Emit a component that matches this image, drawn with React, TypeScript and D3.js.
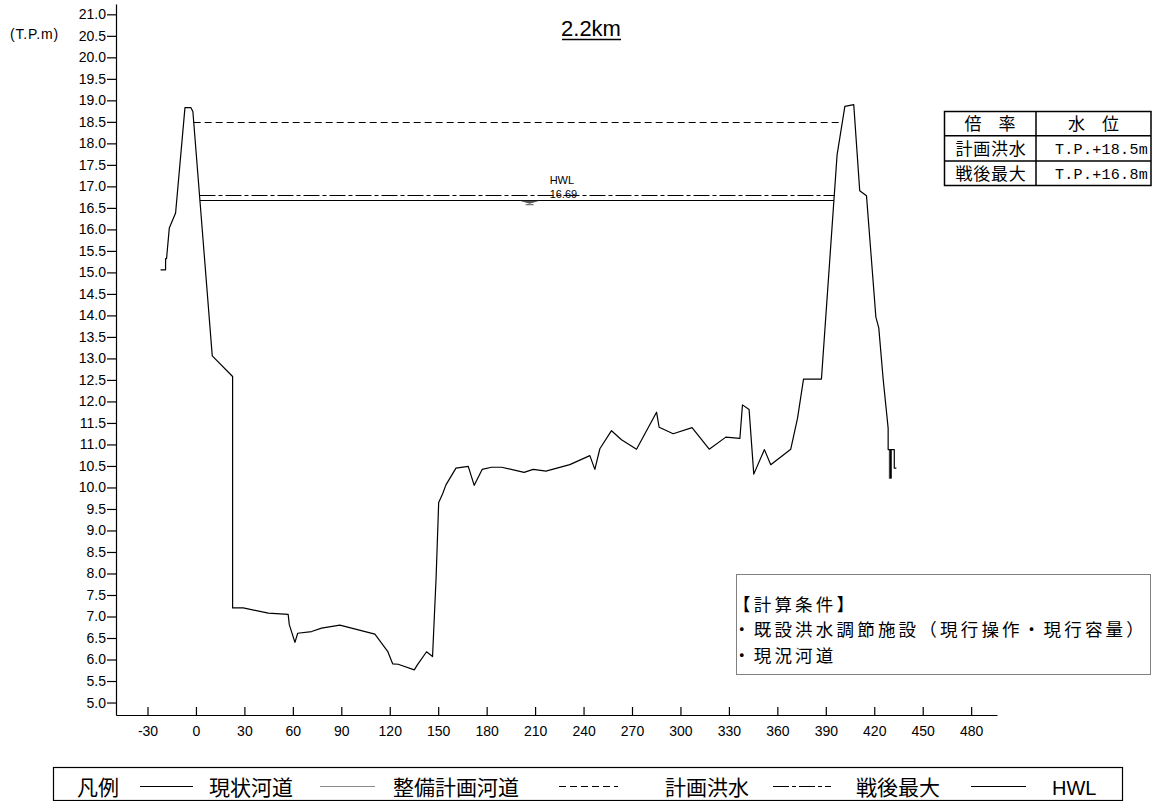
import React, { useEffect, useRef } from "react";
import * as d3 from "d3";

// ---- data ----
const groundX = [-21.9, -18.8, -18.8, -18.2, -16.5, -12.6, -6.8, -3.1, -1.9, 10.1, 22.7, 22.7, 29.3, 44.8, 57.1, 57.8, 61.3, 63.0, 71.6, 77.8, 89.1, 110.8, 118.7, 121.8, 125.2, 135.2, 137.2, 142.8, 146.5, 148.7, 150.3, 152.7, 154.8, 161.0, 168.6, 172.3, 177.2, 183.0, 189.2, 203.2, 208.8, 216.7, 231.5, 243.9, 247.0, 250.1, 257.3, 263.5, 272.8, 285.2, 286.8, 295.5, 307.2, 317.8, 328.1, 336.8, 338.4, 342.5, 345.4, 352.0, 355.9, 368.3, 372.5, 376.2, 387.3, 397.0, 401.8, 407.3, 411.0, 415.2, 421.0, 422.8, 425.5, 428.6, 428.6, 429.8, 429.8, 430.4, 430.4, 432.4, 432.4, 433.7];
const groundY = [15.06, 15.06, 15.32, 15.32, 16.03, 16.38, 18.83, 18.83, 18.74, 13.06, 12.58, 7.2, 7.2, 7.08, 7.05, 6.81, 6.40, 6.61, 6.65, 6.73, 6.80, 6.59, 6.19, 5.90, 5.89, 5.76, 5.88, 6.18, 6.07, 7.9, 9.65, 9.85, 10.06, 10.45, 10.49, 10.05, 10.42, 10.47, 10.47, 10.35, 10.42, 10.38, 10.53, 10.74, 10.42, 10.90, 11.32, 11.11, 10.89, 11.75, 11.40, 11.25, 11.39, 10.89, 11.17, 11.14, 11.92, 11.81, 10.31, 10.88, 10.53, 10.89, 11.61, 12.52, 12.52, 17.74, 18.86, 18.90, 16.90, 16.78, 13.96, 13.71, 12.52, 11.38, 10.88, 10.88, 10.22, 10.22, 10.88, 10.88, 10.45, 10.45];
const planX = [429.9, 429.9];
const planY = [10.88, 10.2];

const floodLevel = 18.5;
const floodRange = [-1.4, 400.3];
const postwarLevel = 16.8;
const postwarRange = [2.2, 395.3];
const hwlLevel = 16.69;
const hwlRange = [2.43, 395.0];
const hwlLabelX = 219;

const xTicks = [-30, 0, 30, 60, 90, 120, 150, 180, 210, 240, 270, 300, 330, 360, 390, 420, 450, 480];
const yTicks = [5.0, 5.5, 6.0, 6.5, 7.0, 7.5, 8.0, 8.5, 9.0, 9.5, 10.0, 10.5, 11.0, 11.5, 12.0, 12.5, 13.0, 13.5, 14.0, 14.5, 15.0, 15.5, 16.0, 16.5, 17.0, 17.5, 18.0, 18.5, 19.0, 19.5, 20.0, 20.5, 21.0];

const title = "2.2km";
const yUnit = "(T.P.m)";
const tableHeader = ["倍　率", "水　位"];
const tableNames = ["計画洪水", "戦後最大"];
const tableValues = ["T.P.+18.5m", "T.P.+16.8m"];
const conditions = ["【計算条件】", "・既設洪水調節施設（現行操作・現行容量）", "・現況河道"];
const legendLabels = ["現状河道", "整備計画河道", "計画洪水", "戦後最大", "HWL"];

const JP = "'Noto Sans CJK JP', sans-serif";
const AR = "'Liberation Sans', Arial, sans-serif";
const MONO = "'Liberation Mono', 'DejaVu Sans Mono', monospace";

const x = d3.scaleLinear().domain([-49.5, 496]).range([116, 997]);
const y = d3.scaleLinear().domain([4.71, 21.24]).range([715, 4]);

const STYLES: Record<string, { stroke: string; dash?: string; width: number }> = {
  ground: { stroke: "#000", width: 1.2 },
  plan: { stroke: "#8a8a8a", width: 1.2 },
  flood: { stroke: "#000", dash: "7,4", width: 1 },
  postwar: { stroke: "#000", dash: "16,3,4,3", width: 1 },
  hwl: { stroke: "#000", width: 1.2 },
};

export default function App() {
  const xAxisRef = useRef<SVGGElement>(null);
  const yAxisRef = useRef<SVGGElement>(null);

  useEffect(() => {
    if (xAxisRef.current) {
      const g = d3.select(xAxisRef.current);
      g.call(
        d3.axisBottom(x).tickValues(xTicks).tickSize(-8).tickSizeOuter(0).tickPadding(11).tickFormat((d) => String(d))
      );
      g.selectAll("text").attr("font-size", 14).attr("font-family", AR).attr("fill", "#000");
      g.selectAll("line,path").attr("stroke", "#000").attr("stroke-width", 1.2);
    }
    if (yAxisRef.current) {
      const g = d3.select(yAxisRef.current);
      g.call(
        d3.axisLeft(y).tickValues(yTicks).tickSize(9).tickSizeOuter(0).tickPadding(1).tickFormat(d3.format(".1f"))
      );
      g.selectAll("text").attr("font-size", 14).attr("font-family", AR).attr("fill", "#000");
      g.selectAll("line,path").attr("stroke", "#000").attr("stroke-width", 1.2);
    }
  }, []);

  const line = d3
    .line<[number, number]>()
    .x((d) => x(d[0]))
    .y((d) => y(d[1]));
  const groundPts = groundX.map((v, i) => [v, groundY[i]] as [number, number]);
  const planPts = planX.map((v, i) => [v, planY[i]] as [number, number]);

  const hline = (lvl: number, r: number[]) => {
    const yy = Math.round(y(lvl)) + 0.5;
    return `M${x(r[0])},${yy}H${x(r[1])}`;
  };

  // legend layout
  const legY = 786.5;
  const legendParts = [
    { kind: "text", t: "凡例", x: 77 },
    { kind: "line", s: "ground", x1: 140, x2: 193 },
    { kind: "text", t: legendLabels[0], x: 209 },
    { kind: "line", s: "plan", x1: 320, x2: 375 },
    { kind: "text", t: legendLabels[1], x: 393 },
    { kind: "line", s: "flood", x1: 559, x2: 618 },
    { kind: "text", t: legendLabels[2], x: 665 },
    { kind: "line", s: "postwar", x1: 773, x2: 831 },
    { kind: "text", t: legendLabels[3], x: 856 },
    { kind: "line", s: "hwl", x1: 971, x2: 1026 },
    { kind: "text", t: legendLabels[4], x: 1052, ar: true },
  ];

  return (
    <svg width={1154} height={801} style={{ position: "absolute", left: 0, top: 0, display: "block", background: "#fff" }}>
      {/* title */}
      <text x={591} y={36} textAnchor="middle" fontFamily={AR} fontSize={22} fill="#000">{title}</text>
      <line x1={562} x2={621} y1={39.5} y2={39.5} stroke="#000" strokeWidth={1.5} />
      <text x={10} y={39} fontFamily={AR} fontSize={14} letterSpacing={0.8} fill="#000">{yUnit}</text>

      <g ref={xAxisRef} transform="translate(0,715)" />
      <g ref={yAxisRef} transform="translate(116,0)" />

      {/* reference lines */}
      <path d={hline(floodLevel, floodRange)} fill="none" stroke={STYLES.flood.stroke} strokeWidth={1} strokeDasharray={STYLES.flood.dash} />
      <path d={hline(postwarLevel, postwarRange)} fill="none" stroke={STYLES.postwar.stroke} strokeWidth={1} strokeDasharray={STYLES.postwar.dash} />
      <path d={hline(hwlLevel, hwlRange)} fill="none" stroke="#000" strokeWidth={1.2} />

      {/* HWL label */}
      <text x={x(hwlLabelX)} y={y(hwlLevel) - 16} fontFamily={AR} fontSize={11} fill="#000">HWL</text>
      <text x={x(hwlLabelX)} y={y(hwlLevel) - 2} fontFamily={AR} fontSize={11} fill="#000">16.69</text>
      <path d={`M${x(hwlLabelX) - 30},${y(hwlLevel) + 1} h20 l-10,3 z`} fill="#555" />
      <line x1={x(hwlLabelX) - 24} x2={x(hwlLabelX) - 16} y1={y(hwlLevel) + 5} y2={y(hwlLevel) + 5} stroke="#555" strokeWidth={1} />

      {/* plan channel */}
      <path d={line(planPts) || ""} fill="none" stroke={STYLES.plan.stroke} strokeWidth={3} />
      {/* current ground */}
      <path d={line(groundPts) || ""} fill="none" stroke="#000" strokeWidth={1.2} strokeLinejoin="round" />

      {/* table */}
      <g fill="none" stroke="#000">
        <rect x={944.5} y={111.5} width={206.5} height={74} strokeWidth={1.5} />
        <line x1={1036} x2={1036} y1={111.5} y2={185.5} strokeWidth={1.5} />
        <line x1={944.5} x2={1151} y1={135.7} y2={135.7} strokeWidth={1.5} />
        <line x1={944.5} x2={1151} y1={161} y2={161} strokeWidth={1.5} />
      </g>
      <text x={990} y={130} textAnchor="middle" fontFamily={JP} fontSize={17}>{tableHeader[0]}</text>
      <text x={1093.5} y={130} textAnchor="middle" fontFamily={JP} fontSize={17}>{tableHeader[1]}</text>
      {tableNames.map((n, i) => (
        <g key={n}>
          <text x={991} y={154.5 + i * 25} textAnchor="middle" fontFamily={JP} fontSize={17} letterSpacing={0.8}>{n}</text>
          <text x={1148} y={154 + i * 25} textAnchor="end" fontFamily={MONO} fontSize={15} letterSpacing={0.3}>{tableValues[i]}</text>
        </g>
      ))}

      {/* conditions box */}
      <rect x={736.5} y={574.5} width={414} height={100} fill="none" stroke="#000" strokeWidth={1} strokeDasharray="1,1" />
      {conditions.map((c, i) => (
        <text key={c} x={733} y={610.5 + i * 25.5} fontFamily={JP} fontSize={17.5} letterSpacing={3.2} fill="#000">{c}</text>
      ))}

      {/* legend */}
      <rect x={53.5} y={767.5} width={1069} height={33} fill="none" stroke="#000" strokeWidth={1.2} />
      {legendParts.map((p, i) =>
        p.kind === "text" ? (
          <text key={i} x={p.x} y={legY + 8} fontFamily={p.ar ? AR : JP} fontSize={p.ar ? 20 : 21} fill="#000">{p.t}</text>
        ) : (
          <line key={i} x1={p.x1} x2={p.x2} y1={legY} y2={legY} stroke={STYLES[p.s!].stroke} strokeWidth={1.2} strokeDasharray={STYLES[p.s!].dash} />
        )
      )}
    </svg>
  );
}
